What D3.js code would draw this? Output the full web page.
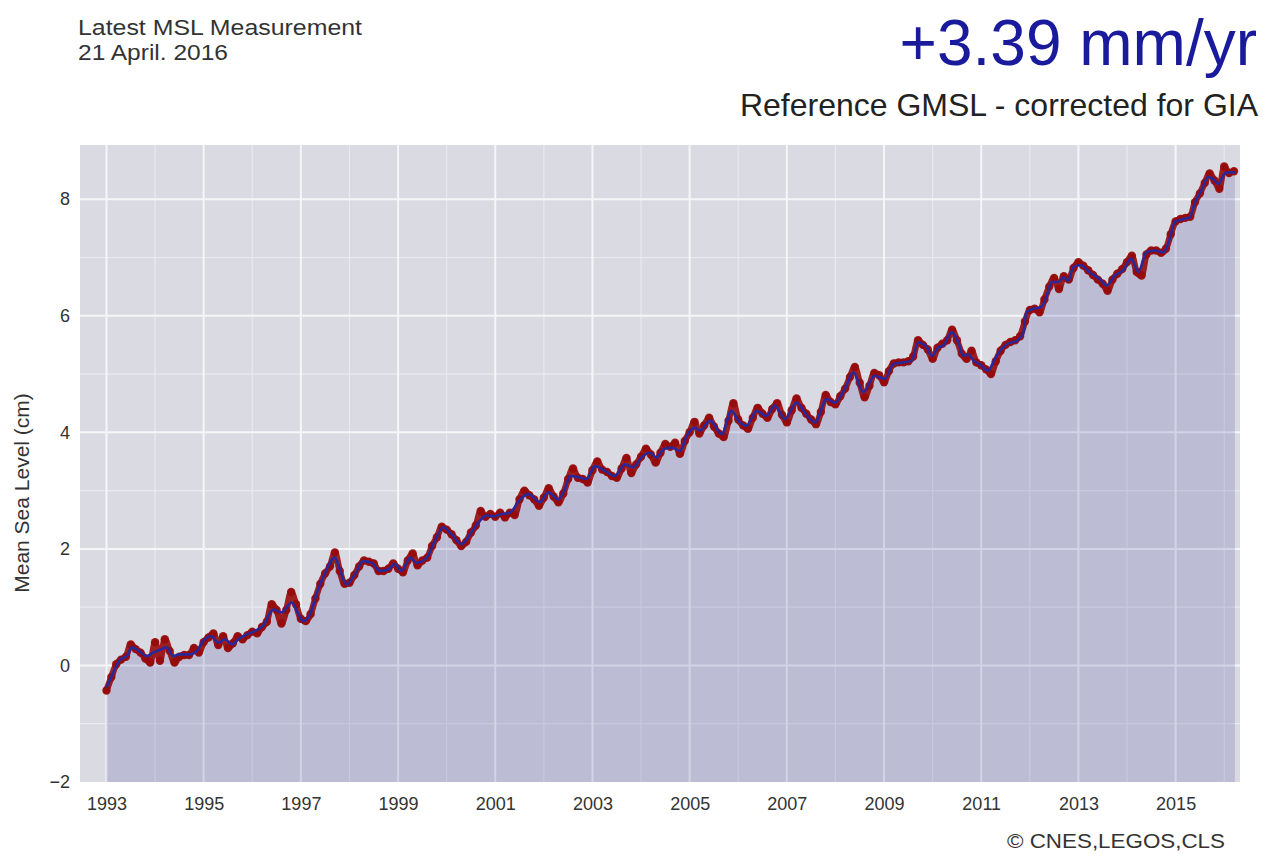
<!DOCTYPE html>
<html>
<head>
<meta charset="utf-8">
<script src="https://cdn.jsdelivr.net/npm/d3@7"></script>
<style>
  html, body { margin: 0; padding: 0; background: #ffffff; }
  svg text { font-family: "Liberation Sans", Arial, Helvetica, sans-serif; }
</style>
</head>
<body>
<svg id="chart" width="1275" height="854"></svg>
<script>
// ---- Data ----
// Smoothed GMSL curve (blue line), year -> cm
const lineYears = [
  1993.00,1993.14,1993.28,1993.42,1993.52,1993.65,1993.83,1993.96,1994.10,1994.24,
  1994.37,1994.51,1994.72,1994.86,1994.99,1995.16,1995.30,1995.44,1995.58,1995.71,
  1995.88,1996.05,1996.22,1996.43,1996.60,1996.81,1996.95,1997.05,1997.19,1997.33,
  1997.50,1997.70,1997.80,1997.94,1998.11,1998.28,1998.46,1998.63,1998.80,1998.94,
  1999.07,1999.25,1999.38,1999.59,1999.76,1999.93,2000.10,2000.31,2000.48,2000.65,
  2000.82,2000.99,2001.10,2001.30,2001.51,2001.68,2001.92,2002.09,2002.30,2002.43,
  2002.54,2002.71,2002.88,2003.05,2003.26,2003.46,2003.67,2003.84,2004.01,2004.18,
  2004.32,2004.46,2004.63,2004.80,2004.94,2005.11,2005.21,2005.42,2005.66,2005.86,
  2006.00,2006.17,2006.38,2006.58,2006.75,2006.96,2007.20,2007.37,2007.58,2007.82,
  2007.99,2008.19,2008.37,2008.57,2008.81,2009.02,2009.19,2009.40,2009.57,2009.70,
  2009.88,2009.98,2010.12,2010.22,2010.39,2010.53,2010.63,2010.73,2010.84,2010.97,
  2011.14,2011.28,2011.42,2011.55,2011.73,2011.86,2011.93,2012.07,2012.24,2012.35,
  2012.45,2012.59,2012.69,2012.79,2012.89,2013.03,2013.27,2013.44,2013.58,2013.75,
  2013.92,2014.09,2014.23,2014.40,2014.57,2014.74,2014.88,2014.98,2015.16,2015.29,
  2015.40,2015.53,2015.67,2015.77,2015.88,2015.98,2016.08,2016.22
];
const lineValues = [
  -0.38,-0.12,0.10,0.16,0.31,0.26,0.16,0.22,0.27,0.31,
  0.16,0.19,0.19,0.25,0.42,0.50,0.39,0.45,0.36,0.45,
  0.53,0.59,0.68,0.96,0.91,1.08,0.88,0.76,0.88,1.25,
  1.59,1.85,1.65,1.39,1.56,1.79,1.76,1.62,1.65,1.74,
  1.62,1.85,1.76,1.85,2.14,2.37,2.25,2.08,2.25,2.45,
  2.57,2.56,2.59,2.62,2.85,2.94,2.80,2.97,2.85,3.02,
  3.25,3.23,3.20,3.42,3.34,3.25,3.45,3.40,3.57,3.65,
  3.57,3.71,3.74,3.68,3.94,4.08,4.03,4.20,3.97,4.37,
  4.20,4.11,4.37,4.28,4.46,4.23,4.51,4.34,4.17,4.57,
  4.51,4.74,5.03,4.69,4.97,4.92,5.17,5.20,5.23,5.54,
  5.46,5.31,5.46,5.49,5.72,5.54,5.31,5.34,5.23,5.17,
  5.06,5.26,5.43,5.52,5.57,5.69,6.06,6.12,6.15,6.35,
  6.58,6.58,6.66,6.60,6.83,6.87,6.72,6.63,6.52,6.69,
  6.78,6.98,6.75,7.09,7.12,7.09,7.32,7.61,7.66,7.69,
  7.95,8.15,8.38,8.35,8.26,8.41,8.46,8.46
];
// Raw measurements (red dots), one every 0.1 yr from 1993.0
const dotStartYear = 1993.0;
const dotStepYears = 0.1;
const dotValues = [
  -0.43,-0.20,0.02,0.10,0.15,0.36,0.28,0.22,0.12,0.05,
  0.40,0.08,0.45,0.25,0.05,0.15,0.18,0.18,0.30,0.22,
  0.40,0.48,0.55,0.35,0.50,0.30,0.38,0.50,0.45,0.52,
  0.58,0.55,0.66,0.75,1.05,0.95,0.72,0.95,1.26,1.05,
  0.80,0.76,0.88,1.15,1.40,1.58,1.70,1.94,1.62,1.40,
  1.42,1.55,1.70,1.80,1.78,1.75,1.62,1.62,1.66,1.75,
  1.66,1.60,1.80,1.92,1.72,1.80,1.85,2.05,2.20,2.38,
  2.33,2.25,2.15,2.05,2.12,2.28,2.40,2.65,2.55,2.60,
  2.55,2.62,2.54,2.62,2.58,2.85,3.00,2.92,2.85,2.74,
  2.88,3.04,2.90,2.80,2.95,3.20,3.38,3.22,3.20,3.14,
  3.35,3.50,3.36,3.32,3.25,3.22,3.38,3.56,3.30,3.45,
  3.58,3.72,3.62,3.48,3.65,3.80,3.75,3.82,3.63,3.85,
  4.00,4.18,3.98,4.12,4.25,4.10,3.98,3.92,4.20,4.50,
  4.22,4.12,4.06,4.25,4.42,4.32,4.25,4.40,4.50,4.30,
  4.17,4.38,4.58,4.42,4.32,4.22,4.14,4.35,4.64,4.52,
  4.48,4.62,4.75,4.95,5.12,4.85,4.60,4.80,5.02,4.98,
  4.86,5.05,5.18,5.20,5.20,5.22,5.30,5.58,5.50,5.42,
  5.26,5.45,5.52,5.58,5.76,5.58,5.35,5.26,5.40,5.20,
  5.15,5.08,5.00,5.22,5.40,5.50,5.55,5.58,5.65,5.90,
  6.10,6.12,6.06,6.28,6.50,6.65,6.46,6.68,6.62,6.82,
  6.92,6.86,6.78,6.70,6.62,6.55,6.43,6.62,6.72,6.80,
  6.92,7.03,6.75,6.69,7.05,7.12,7.12,7.08,7.15,7.40,
  7.62,7.66,7.68,7.70,7.95,8.10,8.28,8.44,8.32,8.18,
  8.56,8.45,8.48
];
const yTickValues = [-2, 0, 2, 4, 6, 8];
const xTickYears = [1993, 1995, 1997, 1999, 2001, 2003, 2005, 2007, 2009, 2011, 2013, 2015];
const fillBaseValue = -2;

// ---- Layout ----
const plot = { left: 80, right: 1240, top: 145, bottom: 782 };
const svg = d3.select("#chart");

const x = d3.scaleLinear().domain([1992.455, 2016.325]).range([plot.left, plot.right]);
const y = d3.scaleLinear().domain([-2, 8.93]).range([plot.bottom, plot.top]);

// background
svg.append("rect")
  .attr("x", plot.left).attr("y", plot.top)
  .attr("width", plot.right - plot.left).attr("height", plot.bottom - plot.top)
  .attr("fill", "#dadae2");

const grid = svg.append("g");
const yearTicks = d3.range(1993, 2017);
grid.selectAll("line.vminor").data(yearTicks.filter(d => !xTickYears.includes(d))).join("line")
  .attr("x1", d => x(d)).attr("x2", d => x(d))
  .attr("y1", plot.top).attr("y2", plot.bottom)
  .attr("stroke", "#e9e9ef").attr("stroke-width", 1.2);
const cmTicks = d3.range(-1, 9);
grid.selectAll("line.hminor").data(cmTicks.filter(d => !yTickValues.includes(d))).join("line")
  .attr("x1", plot.left).attr("x2", plot.right)
  .attr("y1", d => y(d)).attr("y2", d => y(d))
  .attr("stroke", "#e9e9ef").attr("stroke-width", 1.2);
grid.selectAll("line.vmajor").data(xTickYears).join("line")
  .attr("x1", d => x(d)).attr("x2", d => x(d))
  .attr("y1", plot.top).attr("y2", plot.bottom)
  .attr("stroke", "#f6f6f8").attr("stroke-width", 2);
grid.selectAll("line.hmajor").data(yTickValues.filter(d => d > -2)).join("line")
  .attr("x1", plot.left).attr("x2", plot.right)
  .attr("y1", d => y(d)).attr("y2", d => y(d))
  .attr("stroke", "#f6f6f8").attr("stroke-width", 2);

const lineData = lineYears.map((t, i) => ({ t, v: lineValues[i] }));
const dotData = dotValues.map((v, i) => ({ t: dotStartYear + i * dotStepYears, v }));

// filled area
const area = d3.area()
  .x(d => x(d.t)).y0(y(fillBaseValue)).y1(d => y(d.v))
  .curve(d3.curveMonotoneX);
svg.append("path").datum(lineData)
  .attr("d", area)
  .attr("fill", "#1e1e8c").attr("fill-opacity", 0.16);

// dense measurement band (the raw points are so close they merge into a band)
const rawLine = d3.line().x(d => x(d.t)).y(d => y(d.v)).curve(d3.curveMonotoneX);
svg.append("path").datum(dotData)
  .attr("d", rawLine)
  .attr("fill", "none").attr("stroke", "#960a0a").attr("stroke-opacity", 0.9)
  .attr("stroke-width", 6.5).attr("stroke-linejoin", "round").attr("stroke-linecap", "round");

// dots
svg.append("g").selectAll("circle").data(dotData).join("circle")
  .attr("cx", d => x(d.t)).attr("cy", d => y(d.v))
  .attr("r", 4.2)
  .attr("fill", "#960a0a").attr("fill-opacity", 0.92);

// line
const line = d3.line().x(d => x(d.t)).y(d => y(d.v)).curve(d3.curveMonotoneX);
svg.append("path").datum(lineData)
  .attr("d", line)
  .attr("fill", "none").attr("stroke", "#28289a").attr("stroke-width", 2.6)
  .attr("stroke-linejoin", "round");

// axes (labels only, no ticks/domain)
const xAxis = d3.axisBottom(x).tickValues(xTickYears).tickFormat(d3.format("d")).tickSize(0).tickPadding(15);
const gx = svg.append("g").attr("transform", `translate(0,${plot.bottom})`).call(xAxis);
gx.select(".domain").remove();
gx.selectAll("text").attr("font-size", 18).attr("fill", "#333333")
  .style("font-family", '"Liberation Sans", Arial, sans-serif');

const yAxis = d3.axisLeft(y).tickValues(yTickValues).tickFormat(d => d < 0 ? "\u2212" + Math.abs(d) : String(d)).tickSize(0).tickPadding(10);
const gy = svg.append("g").attr("transform", `translate(${plot.left},0)`).call(yAxis);
gy.select(".domain").remove();
gy.selectAll("text").attr("font-size", 18).attr("fill", "#333333")
  .style("font-family", '"Liberation Sans", Arial, sans-serif');

// axis title
svg.append("text")
  .attr("transform", `translate(29,493) rotate(-90)`)
  .attr("text-anchor", "middle")
  .attr("font-size", 21).attr("fill", "#333333")
  .text("Mean Sea Level (cm)");

// header texts
svg.append("text").attr("x", 78).attr("y", 35).attr("font-size", 21.5).attr("fill", "#333333")
  .attr("textLength", 284).attr("lengthAdjust", "spacingAndGlyphs")
  .text("Latest MSL Measurement");
svg.append("text").attr("x", 78).attr("y", 60).attr("font-size", 21.5).attr("fill", "#333333")
  .attr("textLength", 150).attr("lengthAdjust", "spacingAndGlyphs")
  .text("21 April. 2016");
svg.append("text").attr("x", 1257).attr("y", 65).attr("text-anchor", "end")
  .attr("font-size", 64).attr("fill", "#1a1a9c")
  .text("+3.39 mm/yr");
svg.append("text").attr("x", 1258).attr("y", 116).attr("text-anchor", "end")
  .attr("font-size", 32).attr("fill", "#222222")
  .text("Reference GMSL - corrected for GIA");
svg.append("text").attr("x", 1225).attr("y", 848).attr("text-anchor", "end")
  .attr("font-size", 20).attr("fill", "#333333")
  .attr("textLength", 218).attr("lengthAdjust", "spacingAndGlyphs")
  .text("\u00A9 CNES,LEGOS,CLS");
</script>
</body>
</html>
